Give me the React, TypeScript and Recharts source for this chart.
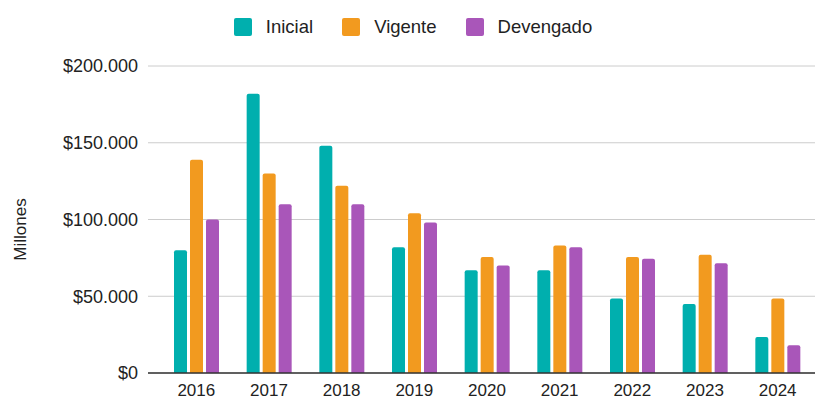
import { Bar, BarChart, CartesianGrid, Legend, XAxis, YAxis } from "recharts";

const years = ["2016", "2017", "2018", "2019", "2020", "2021", "2022", "2023", "2024"];
const inicial = [80000, 182000, 148000, 82000, 67000, 67000, 48500, 45000, 23500];
const vigente = [139000, 130000, 122000, 104000, 75500, 83000, 75500, 77000, 48500];
const devengado = [100000, 110000, 110000, 98000, 70000, 82000, 74500, 71500, 18000];
const seriesOrder = ["Inicial", "Vigente", "Devengado"];
const yTicks = [0, 50000, 100000, 150000, 200000];

const FONT = "'Liberation Sans', Arial, sans-serif";

const data = years.map((year, i) => ({
    year,
    Inicial: inicial[i],
    Vigente: vigente[i],
    Devengado: devengado[i],
}));

function formatMoney(v: number) {
    return "$" + String(v).replace(/\B(?=(\d{3})+(?!\d))/g, ".");
}

const MillonesLabel = (props: any) => {
    const vb = props.viewBox || { x: 0, y: 0, width: 0, height: 0 };
    const x = 20;
    const y = vb.y + vb.height / 2 + 10;
    return (
        <text x={x} y={y} transform={`rotate(-90, ${x}, ${y})`} textAnchor="middle" dominantBaseline="central"
            fontSize={17} fill="#222" fontFamily={FONT}>
            Millones
        </text>
    );
};

const LegendContent = (props: any) => {
    const items = [...(props.payload || [])].sort(
        (a: any, b: any) => seriesOrder.indexOf(a.value) - seriesOrder.indexOf(b.value)
    );
    return (
        <div style={{ display: "flex", justifyContent: "center", alignItems: "center", fontFamily: FONT, fontSize: 18.5, color: "#222", paddingLeft: 10 }}>
            {items.map((item: any, i: number) => (
                <div key={item.value} style={{ display: "flex", alignItems: "center", marginLeft: i === 0 ? 0 : 29 }}>
                    <span style={{ display: "inline-block", width: 18, height: 18, borderRadius: 2, background: item.color, marginRight: 14 }} />
                    <span>{item.value}</span>
                </div>
            ))}
        </div>
    );
};

const App = () => {
    return <div style={{ position: "absolute", left: 0, top: 0, background: "#fff" }}>
        <BarChart width={816} height={401} data={data} margin={{ top: 66, right: 1, bottom: 0, left: 0 }}
            barSize={13} barGap={3}>
            <CartesianGrid vertical={false} stroke="#cccccc" />
            <Legend layout="horizontal" verticalAlign="middle" content={<LegendContent />}
                wrapperStyle={{ top: 16, left: 0, width: 816 }} />
            <XAxis dataKey="year" height={28} tickLine={false} tickSize={0} tickMargin={11}
                axisLine={{ stroke: "#333", strokeWidth: 1.5 }} padding={{ left: 12, right: 1 }}
                tick={{ fontSize: 17, fill: "#222", fontFamily: FONT }} />
            <YAxis width={148} domain={[0, 200000]} ticks={yTicks} tickFormatter={formatMoney}
                axisLine={false} tickLine={false} tickSize={0} tickMargin={10}
                tick={{ fontSize: 18, fill: "#222", fontFamily: FONT }} label={<MillonesLabel />} />
            <Bar dataKey="Inicial" fill="#00AFAE" radius={[2, 2, 0, 0]} isAnimationActive={false} />
            <Bar dataKey="Vigente" fill="#F29A1F" radius={[2, 2, 0, 0]} isAnimationActive={false} />
            <Bar dataKey="Devengado" fill="#A956B9" radius={[2, 2, 0, 0]} isAnimationActive={false} />
        </BarChart>
    </div>
}

export default App;
